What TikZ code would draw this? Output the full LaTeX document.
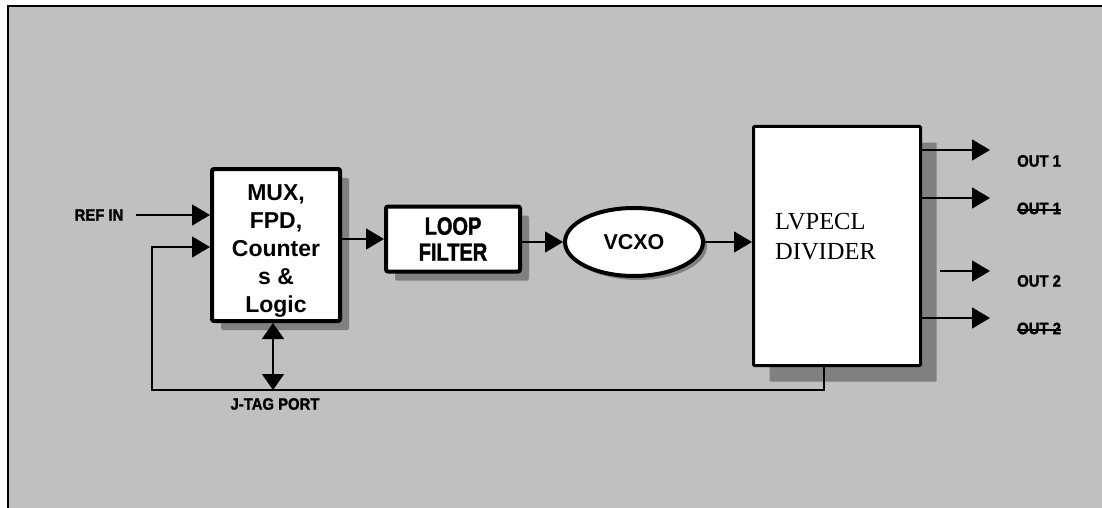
\documentclass[tikz,border=0pt]{standalone}
\usepackage{fontspec}
\setmainfont{Liberation Serif}
\newfontfamily\blocksans{Liberation Sans}
\newfontfamily\narrowsans[FakeStretch=0.8,FakeBold=1.5]{Liberation Sans Bold}
\newfontfamily\labelsans[FakeStretch=0.9,FakeBold=1.5]{Liberation Sans Bold}
\usetikzlibrary{arrows.meta,shapes.geometric,shadows}

\definecolor{panelgray}{HTML}{C0C0C0}
\definecolor{shadowgray}{HTML}{808080}

% complement outputs: bar drawn through the label
\newsavebox\barbox
\newcommand\outbar[1]{\sbox\barbox{#1}\rlap{\usebox\barbox}\rule[0.22em]{\wd\barbox}{1.8pt}}

\begin{document}
\begin{tikzpicture}[x=1pt,y=-1pt,
    block/.style ={draw, line width=4pt, fill=white, rounded corners=2pt, align=center,
      font=\blocksans\bfseries\fontsize{21}{26}\selectfont},
    blockshadow/.style ={drop shadow={shadow xshift=#1, shadow yshift=-#1, fill=shadowgray, opacity=1}},
    siglabel/.style ={inner sep=0pt, font=\labelsans\fontsize{16.5}{18}\selectfont},
    sig/.style ={line width=1.5pt, -{Triangle[length=18pt,width=21pt]}},
    dsig/.style ={line width=1.5pt, {Triangle[length=16pt,width=22pt]}-{Triangle[length=16pt,width=22pt]}}]
   \useasboundingbox (0,0) rectangle (1102,508);
   \fill[panelgray] (8,6) rectangle (1102,508);
   \draw[line width=2pt] (8,508) -- (8,6) -- (1102,6);

   \node[block, blockshadow=9pt, minimum width=128pt, minimum height=152pt,
     font=\blocksans\bfseries\fontsize{23}{28}\selectfont] (mux) at (276,245)
     {\rule{0pt}{27pt}MUX,\\FPD,\\Counter\\s \&\\Logic};
   \node[block, blockshadow=9pt, minimum width=134pt, minimum height=65pt,
     font=\narrowsans\fontsize{25}{26}\selectfont] (loop) at (453,239) {LOOP\\FILTER};
   \node[block, ellipse, blockshadow=4pt, minimum width=138pt, minimum height=68pt,
     font=\blocksans\bfseries\fontsize{21.5}{26}\selectfont] (vcxo) at (634,242) {VCXO};
   \node[draw, line width=3pt, fill=white, rounded corners=1pt, blockshadow=16pt,
     minimum width=167pt, minimum height=239pt] (div) at (837,246) {};
   \node[anchor=west, align=left, inner sep=0pt, font=\fontsize{24.5}{30}\selectfont] (divtext) at (775,237) {LVPECL\\DIVIDER};

   \node[siglabel] (refin) at (99,215) {REF IN};
   \node[siglabel] (jtag) at (275,404) {J-TAG PORT};
   \node[siglabel, anchor=west] (out1) at (1017,161) {OUT 1};
   \node[siglabel, anchor=west] (out1b) at (1017,208.5) {\outbar{OUT 1}};
   \node[siglabel, anchor=west] (out2) at (1017,281) {OUT 2};
   \node[siglabel, anchor=west] (out2b) at (1017,328.5) {\outbar{OUT 2}};

   \coordinate (o1) at (990,150);
   \coordinate (o1b) at (990,198);
   \coordinate (o2) at (990,271);
   \coordinate (o2b) at (990,318);
   \coordinate (fbcorner) at (152,390);

   \draw[sig, shorten <=12pt] (refin.east) -- (refin.east -| mux.west);
   \draw[sig] (loop.west -| mux.east) -- (loop.west);
   \draw[sig] (vcxo.west -| loop.east) -- (vcxo.west);
   \draw[sig] (vcxo.east) -- (vcxo.east -| div.west);
   \draw[sig] (div.east |- o1) -- (o1);
   \draw[sig] (div.east |- o1b) -- (o1b);
   \draw[sig, shorten <=18pt] (div.east |- o2) -- (o2);
   \draw[sig] (div.east |- o2b) -- (o2b);
   \draw[sig] ([xshift=-13pt]div.south) |- (fbcorner) |- ([yshift=-2pt]mux.west);
   \draw[dsig] ([xshift=-3pt]mux.south) -- ([xshift=-3pt]mux.south |- fbcorner);
 \end{tikzpicture}
\end{document}
